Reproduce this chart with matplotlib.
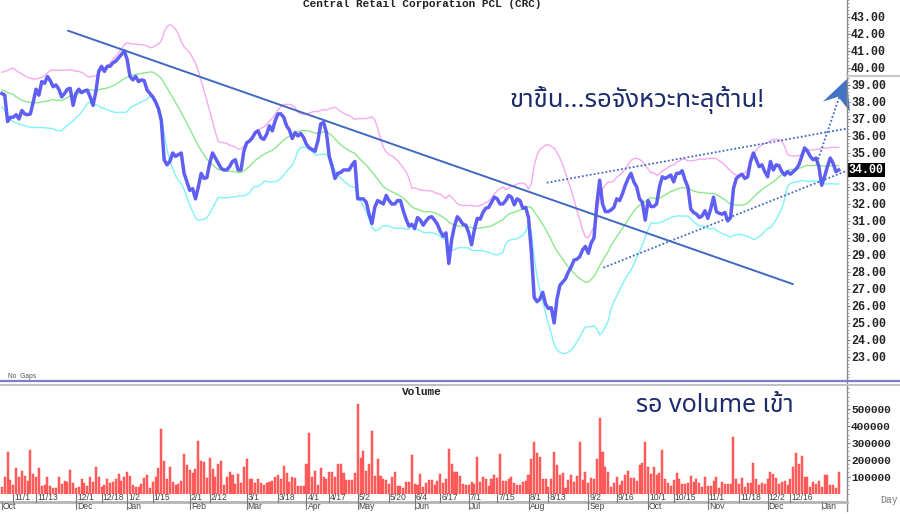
import numpy as np
import pandas as pd
import matplotlib
matplotlib.use("Agg")
import matplotlib.pyplot as plt
from matplotlib import font_manager, transforms
from matplotlib.ft2font import FT2Font
from matplotlib.patches import Polygon
from matplotlib.lines import Line2D
from matplotlib.ticker import MultipleLocator

# ---- data: CRC daily close, one list per month ----
close_2023_10 = [38.50, 38.40, 36.85, 37.10]
close_2023_11 = [37.10, 37.25, 37.00, 37.50, 37.30, 37.25, 37.30, 38.00, 38.75, 38.40,
                 39.20, 39.10, 39.50, 39.25, 38.90, 39.00, 38.75, 38.30, 38.50, 38.75,
                 38.80, 37.80]
close_2023_12 = [38.50, 38.75, 38.55, 38.65, 38.70, 38.30, 37.80, 38.60, 39.80, 40.10,
                 39.80, 40.10, 40.10, 40.30, 40.40, 40.60, 40.80, 41.00]
close_2024_01 = [40.50, 39.50, 39.30, 39.50, 39.20, 39.30, 39.25, 38.70, 38.50, 38.30,
                 38.00, 37.60, 36.90, 34.60, 34.30, 34.50, 35.00, 34.80, 34.90, 35.00,
                 33.80, 33.30]
close_2024_02 = [32.80, 32.90, 32.30, 33.00, 33.80, 33.50, 33.55, 34.40, 35.00, 34.70,
                 34.40, 34.10, 34.00, 34.00, 34.20, 34.50, 34.60, 34.00, 34.00, 35.10]
close_2024_03 = [35.60, 35.70, 35.90, 36.20, 36.30, 35.90, 35.80, 36.10, 36.60, 36.30,
                 36.90, 37.30, 37.30, 37.10, 36.60, 36.35, 35.85, 36.20, 36.00, 36.15,
                 35.90]
close_2024_04 = [35.50, 35.30, 35.20, 35.10, 35.70, 36.70, 36.80, 36.20, 34.80, 34.20,
                 33.50, 33.80, 33.85, 34.00, 34.00, 34.00, 34.30, 34.50]
close_2024_05 = [32.30, 32.30, 32.30, 32.10, 31.40, 30.85, 31.80, 32.20, 32.10, 32.00,
                 32.50, 32.20, 32.00, 32.00, 32.20, 32.20, 31.60, 31.10, 30.70, 30.80]
close_2024_06 = [30.55, 31.20, 31.05, 30.75, 31.00, 31.20, 31.25, 31.05, 30.80, 30.40,
                 30.10, 30.30, 28.50, 29.90, 30.70, 31.25, 31.05, 30.80, 30.75]
close_2024_07 = [30.30, 29.60, 30.50, 31.15, 31.10, 31.50, 31.75, 31.80, 32.10, 32.40,
                 32.30, 32.00, 32.00, 32.20, 32.50, 32.40, 31.95, 32.30, 32.20, 31.75,
                 31.80]
close_2024_08 = [31.20, 29.20, 26.50, 26.25, 26.40, 26.80, 26.10, 25.85, 25.90, 25.00,
                 26.40, 27.20, 27.40, 27.60, 28.00, 28.30, 28.70, 28.75, 28.90, 29.30,
                 29.50]
close_2024_09 = [29.10, 29.70, 30.00, 32.00, 33.40, 32.00, 31.55, 31.55, 31.65, 31.80,
                 32.30, 32.20, 32.60, 33.10, 33.50, 33.80, 33.30, 33.00, 32.30, 32.10,
                 31.05]
close_2024_10 = [32.20, 31.85, 31.85, 32.00, 33.00, 33.60, 33.50, 33.60, 33.70, 33.30,
                 33.80, 33.80, 33.95, 33.40, 33.00, 31.70, 31.50, 31.40, 31.20, 31.30,
                 31.60]
close_2024_11 = [31.15, 31.70, 32.40, 31.55, 31.45, 31.40, 31.50, 31.00, 31.20, 32.90,
                 33.50, 33.65, 33.75, 33.50, 33.60, 34.50, 35.00, 34.60, 34.20, 34.30,
                 33.90]
close_2024_12 = [33.60, 34.50, 34.00, 34.30, 34.25, 33.90, 33.70, 33.90, 33.75, 33.90,
                 34.05, 34.30, 34.80, 35.30, 35.10, 34.80, 34.60, 34.70, 34.20]
close_2025_01 = [33.10, 33.60, 34.20, 34.70, 34.40, 33.90, 34.00]

# volume, thousands of shares
vol_2023_10 = [40, 96, 248, 80]
vol_2023_11 = [50, 150, 95, 135, 103, 73, 258, 115, 99, 150, 45, 48, 99, 45, 33, 33, 95,
               57, 73, 71, 137, 61]
vol_2023_12 = [32, 37, 85, 61, 45, 99, 69, 156, 97, 41, 48, 87, 65, 69, 87, 114, 75, 95]
vol_2024_01 = [129, 103, 48, 41, 41, 57, 91, 107, 32, 67, 99, 150, 381, 190, 85, 160, 70,
               48, 55, 75, 236, 170]
vol_2024_02 = [140, 120, 146, 312, 190, 188, 91, 210, 144, 95, 174, 192, 50, 95, 129, 109,
               55, 113, 61, 160]
vol_2024_03 = [204, 87, 87, 61, 87, 61, 50, 61, 69, 73, 95, 109, 87, 164, 120, 69, 99, 93,
               45, 45, 45]
vol_2024_04 = [178, 357, 95, 133, 50, 150, 95, 87, 129, 125, 99, 178, 178, 120, 81, 81, 81,
               120]
vol_2024_05 = [531, 210, 253, 135, 178, 371, 103, 204, 103, 87, 81, 57, 95, 125, 45, 45, 32,
               67, 67, 230]
vol_2024_06 = [57, 48, 115, 41, 61, 81, 81, 50, 75, 115, 61, 85, 264, 175, 129, 129, 103,
               57, 48]
vol_2024_07 = [48, 69, 55, 218, 67, 95, 85, 45, 87, 109, 91, 236, 73, 75, 85, 95, 61, 53,
               50, 67, 73]
vol_2024_08 = [109, 204, 306, 240, 218, 87, 85, 37, 87, 248, 170, 109, 120, 32, 81, 107, 69,
               103, 304, 81, 129]
vol_2024_09 = [61, 91, 87, 204, 450, 244, 156, 129, 41, 65, 95, 50, 73, 109, 133, 91, 91,
               75, 172, 184, 306]
vol_2024_10 = [156, 115, 160, 109, 120, 258, 87, 61, 45, 81, 120, 87, 55, 57, 61, 103, 69,
               85, 61, 37, 95]
vol_2024_11 = [45, 45, 73, 99, 32, 69, 57, 55, 55, 337, 87, 57, 91, 37, 65, 65, 184, 87, 50,
               61, 57]
vol_2024_12 = [87, 125, 115, 91, 55, 69, 75, 48, 87, 156, 240, 178, 222, 95, 95, 37, 69, 55,
               75]
vol_2025_01 = [41, 111, 109, 50, 50, 35, 125]

# bollinger values for the first 19 days (window starts before the visible range)
bb_up_lead = [39.75, 39.80, 39.85, 39.95, 40.00, 39.85, 39.75, 39.65, 39.55, 39.45,
              39.40, 39.35, 39.35, 39.40, 39.45, 39.55, 39.70, 39.85, 39.90]
bb_mid_lead = [38.70, 38.65, 38.55, 38.50, 38.45, 38.30, 38.20, 38.10, 38.05, 38.00,
               37.97, 37.95, 37.95, 37.97, 38.00, 38.02, 38.05, 38.10, 38.15]
bb_lo_lead = [37.70, 37.50, 37.15, 36.95, 36.85, 36.78, 36.70, 36.65, 36.60, 36.55,
              36.52, 36.50, 36.50, 36.50, 36.50, 36.48, 36.47, 36.45, 36.43]

# SET market holidays inside the range
set_holidays = ["2023-12-05", "2023-12-11", "2023-12-29", "2024-01-01", "2024-02-26",
                "2024-04-08", "2024-04-12", "2024-04-15", "2024-04-16", "2024-05-01",
                "2024-05-06", "2024-05-22", "2024-06-03", "2024-07-22", "2024-07-29",
                "2024-08-12", "2024-10-14", "2024-10-23", "2024-12-05", "2024-12-10",
                "2024-12-31", "2025-01-01"]

tick_dates = ["2023-11-01", "2023-11-13", "2023-12-01", "2023-12-18", "2024-01-02",
              "2024-01-15", "2024-02-01", "2024-02-12", "2024-03-01", "2024-03-18",
              "2024-04-01", "2024-04-17", "2024-05-02", "2024-05-20", "2024-06-04",
              "2024-06-17", "2024-07-01", "2024-07-15", "2024-08-01", "2024-08-13",
              "2024-09-02", "2024-09-16", "2024-10-01", "2024-10-15", "2024-11-01",
              "2024-11-18", "2024-12-02", "2024-12-16"]

# hand drawn lines on the chart: (day index, price)
trend_down = ([23.3, 277.8], [42.19, 27.29])
channel_top = ([191.4, 297.3], [33.25, 36.45])
channel_bot = ([211.3, 296.8], [28.25, 33.95])
arrow_shaft = ([286.3, 294.4], [34.41, 38.41])
arrow_head = [(296.8, 39.34), (288.4, 38.02), (293.8, 38.31), (297.9, 37.43)]

close = np.concatenate([close_2023_10, close_2023_11, close_2023_12, close_2024_01,
                        close_2024_02, close_2024_03, close_2024_04, close_2024_05,
                        close_2024_06, close_2024_07, close_2024_08, close_2024_09,
                        close_2024_10, close_2024_11, close_2024_12, close_2025_01])
volume = 1000 * np.concatenate([vol_2023_10, vol_2023_11, vol_2023_12, vol_2024_01,
                                vol_2024_02, vol_2024_03, vol_2024_04, vol_2024_05,
                                vol_2024_06, vol_2024_07, vol_2024_08, vol_2024_09,
                                vol_2024_10, vol_2024_11, vol_2024_12, vol_2025_01])
n = min(len(close), len(volume))
close, volume = close[:n], volume[:n]
x = np.arange(n)

dates = pd.bdate_range("2023-10-26", "2025-01-10", freq="C", holidays=set_holidays)

s = pd.Series(close)
mid = s.rolling(20).mean().to_numpy()
sd = s.rolling(20).std(ddof=0).to_numpy()
upper = mid + 2 * sd
lower = mid - 2 * sd
mid[:19] = bb_mid_lead
upper[:19] = bb_up_lead
lower[:19] = bb_lo_lead


def pick_thai_font():
    wanted = ["Noto Sans Thai", "Noto Sans Thai UI", "Kanit", "Prompt", "Sarabun",
              "Loma", "Garuda", "Waree", "Norasi", "Tlwg Typo"]
    names = {f.name for f in font_manager.fontManager.ttflist}
    for w in wanted:
        if w in names:
            return w
    for f in font_manager.fontManager.ttflist:
        try:
            if 0x0E02 in FT2Font(f.fname).get_charmap():
                return f.name
        except Exception:
            continue
    return "DejaVu Sans"


thai = pick_thai_font()
mono = "Liberation Mono"

W, H = 900, 514
fx = lambda px: px / W
fy = lambda py: 1 - py / H
x_of_px = lambda px: (px - 1.91) / 2.8465

fig = plt.figure(figsize=(9, 5.14), dpi=100)
ax_p = fig.add_axes([0, fy(378), fx(846.5), 378 / H])
ax_v = fig.add_axes([0, fy(493.5), fx(846.5), (493.5 - 383) / H])

for ax in (ax_p, ax_v):
    ax.set_xlim(x_of_px(0), x_of_px(846.5))
    for sp in ax.spines.values():
        sp.set_visible(False)
    ax.set_xticks([])
    ax.yaxis.tick_right()
    ax.tick_params(axis="y", which="major", direction="out", length=2.5, width=0.8,
                   color="#777777", pad=0.8, labelsize=8.4)
    ax.tick_params(axis="y", which="minor", direction="out", length=1.5, width=0.6,
                   color="#999999")

# price panel
ax_p.set_ylim(21.76, 44.0)
ax_p.plot(x, upper, color="#f7aaf0", lw=1.0)
ax_p.plot(x, mid, color="#8de88d", lw=1.0)
ax_p.plot(x, lower, color="#80f2f8", lw=1.0)
ax_p.plot(x, close, color="#4e4ef2", lw=2.5, alpha=0.9, solid_joinstyle="round")

# the last price gets its own boxed label, so its plain tick label is left blank
price_ticks = np.arange(23, 44)
ax_p.set_yticks(price_ticks)
ax_p.set_yticklabels(["" if abs(v - close[-1]) < 0.01 else f"{v:.2f}" for v in price_ticks])
ax_p.yaxis.set_minor_locator(MultipleLocator(0.2))
for lbl in ax_p.get_yticklabels():
    lbl.set_fontfamily(mono)
    lbl.set_fontweight("bold")
    lbl.set_color("#222222")

line_blue = "#4168c2"
ax_p.plot(*trend_down, color=line_blue, lw=1.4)
ax_p.plot(*channel_top, color=line_blue, lw=1.3, ls=(0, (1, 1.2)))
ax_p.plot(*channel_bot, color=line_blue, lw=1.3, ls=(0, (1, 1.2)))
ax_p.plot(*arrow_shaft, color=line_blue, lw=1.3, ls=(0, (1, 1.2)), clip_on=False)
ax_p.add_patch(Polygon(arrow_head, closed=True, facecolor="#4472c4", edgecolor="none",
                       clip_on=False, zorder=5))

last_tr = transforms.blended_transform_factory(ax_p.transAxes, ax_p.transData)
ax_p.text(848.8 / 846.5, close[-1], f"{close[-1]:.2f}", transform=last_tr, ha="left",
          va="center", fontsize=8.4, fontfamily=mono, fontweight="bold", color="white",
          bbox=dict(facecolor="black", edgecolor="none", pad=1.0), zorder=10)

# volume panel
ax_v.set_ylim(0, 656000)
ax_v.bar(x, volume, width=0.72, color="#ff6464", edgecolor="#ff3c3c", linewidth=0.3)
ax_v.set_yticks([100000, 200000, 300000, 400000, 500000])
ax_v.set_yticklabels(["100000", "200000", "300000", "400000", "500000"])
ax_v.yaxis.set_minor_locator(MultipleLocator(25000))
for lbl in ax_v.get_yticklabels():
    lbl.set_fontfamily(mono)
    lbl.set_fontweight("bold")
    lbl.set_color("#222222")
    lbl.set_fontsize(8.0)

# frame pieces
fig.add_artist(Line2D([fx(846.5), fx(846.5)], [fy(0), fy(511)], color="#8a8a8a", lw=1.0))
fig.add_artist(Line2D([0, 1], [fy(381), fy(381)], color="#7d7dcc", lw=1.6))
fig.add_artist(Line2D([0, 1], [fy(384.5), fy(384.5)], color="#c0c0c0", lw=1.4))
fig.add_artist(Line2D([fx(846.5), 1], [fy(76), fy(76)], color="#c8c8c8", lw=1.6))
fig.add_artist(Line2D([0, fx(846.5)], [fy(502), fy(502)], color="#b4b4b4", lw=2.0))

# date axis
trx = transforms.blended_transform_factory(ax_v.transData, fig.transFigure)
one_px = 1 / 2.8465
for d in tick_dates:
    i = dates.get_loc(pd.Timestamp(d))
    fig.add_artist(Line2D([i, i], [fy(494), fy(502)], transform=trx, color="#777777", lw=0.8))
    ts = pd.Timestamp(d)
    fig.text(i + one_px, fy(498), f"{ts.month}/{ts.day}", transform=trx, ha="left",
             va="center", fontsize=6.2, color="#444444", fontfamily="Liberation Sans")

month_starts = [0] + [k for k in range(1, len(dates)) if dates[k].month != dates[k - 1].month]
for k in month_starts:
    if dates[k].year == 2023 and dates[k].month == 11:
        continue
    fig.add_artist(Line2D([k, k], [fy(502), fy(509)], transform=trx, color="#777777", lw=0.8))
    fig.text(k + one_px, fy(506.5), dates[k].strftime("%b"), transform=trx, ha="left",
             va="center", fontsize=6.2, color="#444444", fontfamily="Liberation Sans")

# texts
fig.text(fx(422), fy(4), "Central Retail Corporation PCL (CRC)", ha="center", va="center",
         fontsize=8, fontfamily=mono, fontweight="bold", color="#222222")
fig.text(fx(422), fy(392), "Volume", ha="center", va="center", fontsize=8,
         fontfamily=mono, fontweight="bold", color="#222222")
fig.text(fx(8), fy(377), "No  Gaps", ha="left", va="center", fontsize=4.8, color="#555555",
         fontfamily="Liberation Sans")
fig.text(fx(880), fy(500), "Day", ha="left", va="center", fontsize=7, color="#777777",
         fontfamily=mono)

txt_color = "#1c2b6b"
fig.text(fx(510), fy(100), "ขาขึ้น...รอจังหวะทะลุต้าน!", ha="left", va="center",
         fontsize=18.5, color=txt_color, family=[thai, "Noto Sans", "DejaVu Sans"])
fig.text(fx(636), fy(405), "รอ volume เข้า", ha="left", va="center",
         fontsize=18, color=txt_color, family=[thai, "Noto Sans", "DejaVu Sans"])

fig.savefig("out.png", dpi=100)
